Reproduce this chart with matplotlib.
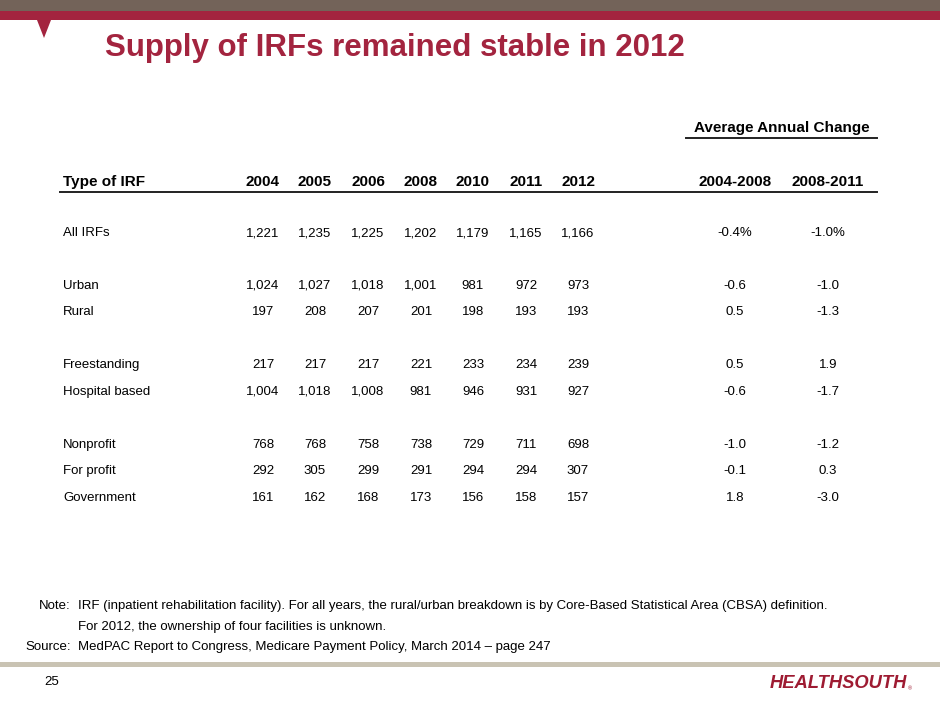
import matplotlib
matplotlib.use('agg')
from matplotlib import pyplot as plt
from matplotlib.patches import Rectangle, Polygon

plt.rcParams['font.family'] = ['Liberation Sans', 'DejaVu Sans']

# table data
years = ['2004', '2005', '2006', '2008', '2010', '2011', '2012']
periods = ['2004-2008', '2008-2011']
row_names = ['All IRFs', 'Urban', 'Rural', 'Freestanding', 'Hospital based',
             'Nonprofit', 'For profit', 'Government']
counts = [
    ['1,221', '1,235', '1,225', '1,202', '1,179', '1,165', '1,166'],
    ['1,024', '1,027', '1,018', '1,001', '981', '972', '973'],
    ['197', '208', '207', '201', '198', '193', '193'],
    ['217', '217', '217', '221', '233', '234', '239'],
    ['1,004', '1,018', '1,008', '981', '946', '931', '927'],
    ['768', '768', '758', '738', '729', '711', '698'],
    ['292', '305', '299', '291', '294', '294', '307'],
    ['161', '162', '168', '173', '156', '158', '157'],
]
changes = [
    ['-0.4%', '-1.0%'],
    ['-0.6', '-1.0'],
    ['0.5', '-1.3'],
    ['0.5', '1.9'],
    ['-0.6', '-1.7'],
    ['-1.0', '-1.2'],
    ['-0.1', '0.3'],
    ['1.8', '-3.0'],
]

RED = '#a3243f'

fig = plt.figure(figsize=(9.4, 7.05), dpi=100)
ax = fig.add_axes([0, 0, 1, 1])
ax.set_xlim(0, 940)
ax.set_ylim(705, 0)
ax.axis('off')

# banner
ax.add_patch(Rectangle((0, 0), 940, 10.5, color='#736359', lw=0))
ax.add_patch(Rectangle((0, 10.5), 940, 9.5, color=RED, lw=0))
ax.add_patch(Polygon([(37, 20), (51, 20), (44, 38)], color=RED, lw=0))

ax.text(105, 48, 'Supply of IRFs remained stable in 2012', color=RED,
        fontsize=22.5, fontweight='bold', va='center', ha='left')

# header
ax.text(782, 128, 'Average Annual Change', fontsize=11, fontweight='bold',
        ha='center', va='center')
ax.plot([686, 877], [138, 138], color='#222222', lw=1.4)

year_x = [263, 315, 368, 421, 473, 526, 578]
period_x = [735, 828]
head_y = 182
ax.text(63, head_y, 'Type of IRF', fontsize=11, fontweight='bold', va='center')
for x, y in zip(year_x, years):
    ax.text(x, head_y, y, fontsize=11, fontweight='bold', ha='center', va='center')
for x, p in zip(period_x, periods):
    ax.text(x, head_y, p, fontsize=11, fontweight='bold', ha='center', va='center')
ax.plot([60, 877], [192, 192], color='#222222', lw=1.4)

row_y = [233, 286, 312, 365, 392, 445, 471, 498]
for ry, name, cnt, chg in zip(row_y, row_names, counts, changes):
    ax.text(63, ry, name, fontsize=9.5, va='center')
    for x, v in zip(year_x, cnt):
        ax.text(x, ry, v, fontsize=9.5, ha='center', va='center')
    for x, v in zip(period_x, chg):
        ax.text(x, ry, v, fontsize=9.5, ha='center', va='center')

# notes
ax.text(71, 606, 'Note:', fontsize=9.5, ha='right', va='center')
ax.text(78, 606, 'IRF (inpatient rehabilitation facility). For all years, the rural/urban '
        'breakdown is by Core-Based Statistical Area (CBSA) definition.',
        fontsize=9.5, va='center')
ax.text(78, 627, 'For 2012, the ownership of four facilities is unknown.',
        fontsize=9.5, va='center')
ax.text(71, 647, 'Source:', fontsize=9.5, ha='right', va='center')
ax.text(78, 647, 'MedPAC Report to Congress, Medicare Payment Policy, March 2014 \u2013 page 247',
        fontsize=9.5, va='center')

# footer
ax.add_patch(Rectangle((0, 662), 940, 4.5, color='#c9c3b3', lw=0))
ax.text(44, 682, '25', fontsize=9.5, ha='left', va='center')
ax.text(770, 684, 'HEALTHSOUTH', color='#9e1b32', fontsize=13.2, fontweight='bold',
        style='italic', ha='left', va='center')
ax.text(907.5, 689, '\u00ae', color='#9e1b32', fontsize=4, ha='left', va='center')

fig.savefig('out.png', dpi=100)
